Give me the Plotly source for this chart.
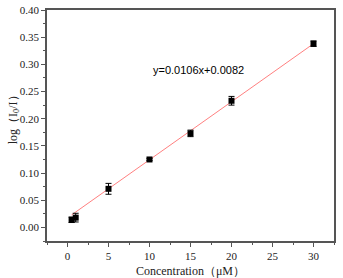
import plotly.graph_objects as go

conc = [0.5, 1, 5, 10, 15, 20, 30]
logI = [0.014, 0.018, 0.071, 0.125, 0.173, 0.233, 0.338]
err = [0.005, 0.008, 0.010, 0.002, 0.006, 0.008, 0.005]
equation = "y=0.0106x+0.0082"
fit_x = [0.5, 30]
fit_y = [0.023, 0.338]
x_title = "Concentration（μM）"
y_title = "log（I<sub>0</sub>/I）"

x_ticks = [0, 5, 10, 15, 20, 25, 30]
y_ticks = [0.00, 0.05, 0.10, 0.15, 0.20, 0.25, 0.30, 0.35, 0.40]

fig = go.Figure()
fig.add_trace(go.Scatter(x=fit_x, y=fit_y, mode="lines",
                         line=dict(color="#ff8080", width=1), showlegend=False))
fig.add_trace(go.Scatter(x=conc, y=logI, mode="markers",
                         marker=dict(symbol="square", size=6, color="black"),
                         error_y=dict(type="data", array=err, color="black",
                                      thickness=1, width=3),
                         showlegend=False))

fig.add_annotation(x=16, y=0.289, text=equation, showarrow=False,
                   font=dict(family="Liberation Sans", size=11, color="black"))
fig.add_annotation(xref="paper", yref="paper", x=-0.115, y=0.54, text=y_title,
                   textangle=-90, showarrow=False, xanchor="center", yanchor="middle",
                   font=dict(family="Liberation Serif", size=12, color="#222"))

axis_common = dict(showline=True, linecolor="#555", linewidth=1.5, mirror=True,
                   showgrid=False, zeroline=False, ticks="outside",
                   tickcolor="#555", ticklen=4, tickwidth=1, automargin=False,
                   tickfont=dict(family="Liberation Serif", size=11, color="#222"))

fig.update_xaxes(range=[-2.5, 32.5], tickvals=x_ticks,
                 minor=dict(dtick=2.5, ticks="outside", ticklen=2, tickcolor="#555"),
                 title=dict(text=x_title, standoff=6,
                            font=dict(family="Liberation Serif", size=12, color="#222")),
                 **axis_common)
fig.update_yaxes(range=[-0.025, 0.40], tickvals=y_ticks, tickformat=".2f",
                 minor=dict(dtick=0.025, ticks="outside", ticklen=2, tickcolor="#555"),
                 **axis_common)

fig.update_layout(width=343, height=278, margin=dict(l=47, r=9, t=10, b=37),
                  plot_bgcolor="white", paper_bgcolor="white")
fig.write_html("out.html", config={"displayModeBar": False},
               post_script="document.body.style.margin='0';document.body.style.overflow='hidden';")
